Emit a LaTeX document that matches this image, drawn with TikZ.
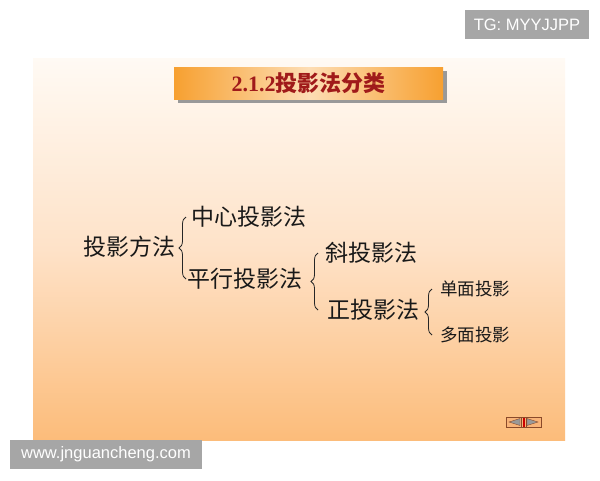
\documentclass[tikz,border=0pt]{standalone}
\usepackage{fontspec}
\setmainfont{Liberation Serif}
\newfontfamily\cjk{Noto Sans CJK SC}
\newfontfamily\wmfont{Liberation Sans}
\usetikzlibrary{decorations.pathreplacing,shadows,calc}
\definecolor{slidetop}{HTML}{FFFAF4}
\definecolor{slidemid}{HTML}{FEE2C8}
\definecolor{slidebot}{HTML}{FCBC7A}
\definecolor{titleorange}{HTML}{F7A030}
\definecolor{titlelight}{HTML}{FDDDB4}
\definecolor{titlered}{HTML}{A01A1A}
\definecolor{wmgray}{HTML}{A6A6A6}
\definecolor{navbrown}{HTML}{8A4A2A}
\definecolor{navfill}{HTML}{F9B478}
\begin{document}
\begin{tikzpicture}[x=1pt,y=-1pt,
  lbl/.style={anchor=west,inner sep=0pt,text=black!90,font=\cjk\fontsize{23}{26}\selectfont},
  sublbl/.style={anchor=west,inner sep=0pt,text=black!90,font=\cjk\fontsize{17.5}{20}\selectfont},
  brc/.style={decorate,decoration={brace,amplitude=7pt},line width=0.8pt,black!85},
  wm/.style={fill=wmgray,text=white,inner sep=0pt,font=\wmfont\fontsize{16.5}{18}\selectfont}]
\useasboundingbox (0,0) rectangle (600,480);
\fill[white] (0,0) rectangle (600,480);
\shade[top color=slidetop,bottom color=slidebot,middle color=slidemid] (33,58) rectangle (565,440);

\node[shade,left color=titleorange,right color=titleorange,middle color=titlelight,minimum width=269pt,minimum height=32pt,
  drop shadow={shadow xshift=4pt,shadow yshift=-4pt,fill=black!40,opacity=1},
  text=titlered,font=\bfseries\fontsize{22}{24}\selectfont] (title) at (308.5,83) {2.1.2{\cjk\bfseries 投影法分类}};

\node[lbl] (fangfa) at (83,247) {投影方法};
\node[lbl] (zhongxin) at (191,217) {中心投影法};
\node[lbl] (pingxing) at (187,279) {平行投影法};
\node[lbl] (xie) at (325,253) {斜投影法};
\node[lbl] (zheng) at (327,310) {正投影法};
\node[sublbl] (danmian) at (440,289) {单面投影};
\node[sublbl] (duomian) at (440,335) {多面投影};

\draw[brc] ($(zhongxin.west |- pingxing.west)+(-5,0)$) -- ($(zhongxin.west)+(-5,0)$);
\draw[brc] ($(zheng.west)+(-9,0)$) -- ($(zheng.west |- xie.west)+(-9,0)$);
\draw[brc] ($(duomian.west)+(-8,0)$) -- ($(danmian.west)+(-8,0)$);

% navigation button
\draw[navbrown,fill=navfill] (506,417) rectangle (541,427);
\draw[navbrown,fill=black!40] (509,422) -- (520,418.5) -- (520,425.5) -- cycle;
\fill[red!80!black] (522.5,417.5) rectangle (524.5,426.5);
\draw[navbrown] (521,417) -- (521,427) (526,417) -- (526,427);
\draw[navbrown,fill=black!40] (527,418.5) -- (538,422) -- (527,425.5) -- cycle;

\node[wm,minimum width=124pt,minimum height=29pt] (tg) at (527,24.5) {TG: MYYJJPP};
\node[wm,minimum width=192pt,minimum height=29pt] (web) at (106,454.5) {www.jnguancheng.com};
\end{tikzpicture}
\end{document}
